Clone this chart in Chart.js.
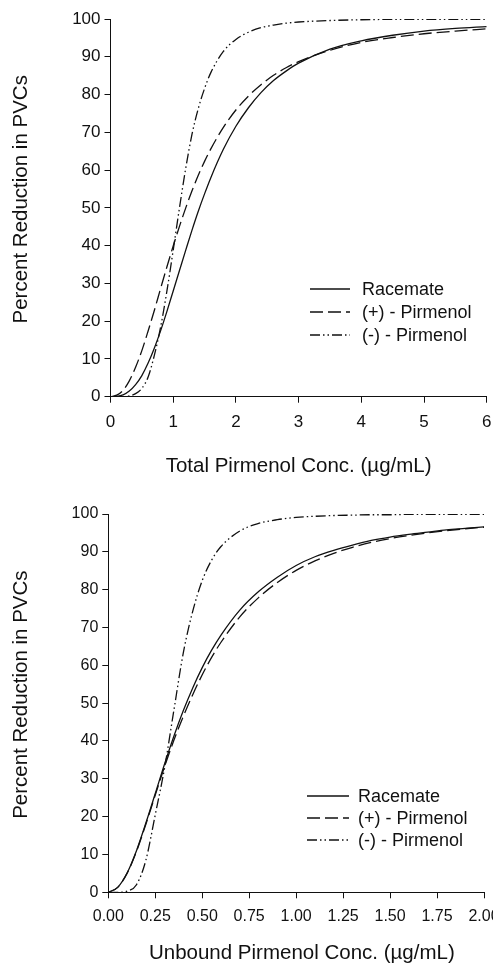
<!DOCTYPE html>
<html>
<head>
<meta charset="utf-8">
<script src="https://cdn.jsdelivr.net/npm/chart.js@4.4.1/dist/chart.umd.min.js"></script>
<style>
  html, body { margin: 0; padding: 0; background: #fff; }
  body { width: 493px; height: 966px; overflow: hidden; position: relative; }
  .panel { position: absolute; left: 0; width: 520px; height: 483px; }
  #panelTop { top: 0; }
  #panelBottom { top: 483px; }
</style>
</head>
<body>
<div class="panel" id="panelTop"><canvas id="chartTotal" width="520" height="483"></canvas></div>
<div class="panel" id="panelBottom"><canvas id="chartUnbound" width="520" height="483"></canvas></div>
<script>
// Series names
const seriesNames = ['Racemate', '(+) - Pirmenol', '(-) - Pirmenol'];

// Tick labels
const yTicks = [0, 10, 20, 30, 40, 50, 60, 70, 80, 90, 100];
const xTicksTotal = [0, 1, 2, 3, 4, 5, 6];
const xTicksUnbound = [0, 0.25, 0.5, 0.75, 1, 1.25, 1.5, 1.75, 2];

// Top panel: total concentration (ug/mL)
const xTotal = [0, 0.1, 0.2, 0.3, 0.4, 0.5, 0.6, 0.7, 0.8, 0.9, 1.0, 1.1, 1.2, 1.3, 1.4, 1.5, 1.6, 1.8, 2.0, 2.2, 2.4, 2.6, 2.8, 3.0, 3.5, 4.0, 4.5, 5.0, 5.5, 6.0];
const racemateTotal = [0, 0.1, 0.5, 1.5, 3.2, 5.6, 8.9, 12.9, 17.5, 22.6, 28.0, 33.4, 38.8, 44.1, 49.1, 53.7, 58.0, 65.5, 71.6, 76.5, 80.5, 83.7, 86.2, 88.3, 92.0, 94.2, 95.7, 96.8, 97.5, 98.0];
const plusTotal = [0, 0.4, 1.7, 4.2, 7.8, 12.2, 17.4, 22.9, 28.7, 34.4, 39.9, 45.1, 50.0, 54.5, 58.6, 62.3, 65.6, 71.3, 75.9, 79.6, 82.6, 85.1, 87.1, 88.7, 91.7, 93.8, 95.1, 96.1, 96.8, 97.4];
const minusTotal = [0, 0, 0, 0.2, 0.8, 2.2, 5.2, 11.0, 18.5, 28.0, 38.8, 50.0, 60.5, 69.5, 76.3, 81.6, 85.8, 91.4, 94.6, 96.5, 97.7, 98.4, 98.9, 99.2, 99.6, 99.8, 99.9, 99.9, 99.9, 99.9];

// Bottom panel: unbound concentration (ug/mL)
const xUnbound = [0, 0.05, 0.1, 0.15, 0.2, 0.25, 0.3, 0.35, 0.4, 0.45, 0.5, 0.55, 0.6, 0.7, 0.8, 0.9, 1.0, 1.1, 1.2, 1.3, 1.4, 1.5, 1.6, 1.7, 1.8, 1.9, 2.0];
const racemateUnbound = [0, 1.3, 5.1, 11.0, 18.3, 26.1, 34.0, 41.4, 48.1, 54.1, 59.4, 64.0, 68.0, 74.6, 79.5, 83.3, 86.4, 88.7, 90.4, 91.8, 93.0, 93.9, 94.6, 95.2, 95.8, 96.2, 96.6];
const plusUnbound = [0, 1.3, 5.0, 10.8, 18.0, 25.7, 33.3, 40.3, 46.6, 52.3, 57.5, 62.1, 66.1, 72.8, 77.9, 81.9, 85.1, 87.6, 89.6, 91.2, 92.5, 93.5, 94.3, 95.0, 95.6, 96.1, 96.5];
const minusUnbound = [0, 0, 0.3, 2.0, 8.5, 20.5, 33.0, 48.4, 63.5, 74.4, 82.4, 87.8, 91.4, 95.5, 97.5, 98.5, 99.1, 99.4, 99.6, 99.7, 99.8, 99.8, 99.9, 99.9, 99.9, 99.9, 99.9];

const FONT = '"Liberation Sans", Arial, Helvetica, sans-serif';
const INK = '#111';

// Line styles: solid, long dash, dash-dot-dot
const lineStyles = [[], [13, 5], [10, 3, 1.5, 3, 1.5, 3]];

// Legend drawn inside the plot, line sample + label
const lineLegend = {
  id: 'lineLegend',
  afterDraw(chart, args, opts) {
    const ctx = chart.ctx;
    ctx.save();
    ctx.font = '18px ' + FONT;
    ctx.textBaseline = 'middle';
    ctx.textAlign = 'left';
    ctx.fillStyle = INK;
    chart.data.datasets.forEach((ds, i) => {
      const y = opts.y + i * opts.rowH;
      ctx.beginPath();
      ctx.setLineDash(ds.borderDash);
      ctx.strokeStyle = ds.borderColor;
      ctx.lineWidth = ds.borderWidth;
      ctx.moveTo(opts.x1, y);
      ctx.lineTo(opts.x2, y);
      ctx.stroke();
      ctx.setLineDash([]);
      ctx.fillText(ds.label, opts.textX, y + 1);
    });
    ctx.restore();
  }
};

function makeChart(canvasId, xs, seriesList, cfg) {
  const datasets = seriesList.map((ys, i) => ({
    label: seriesNames[i],
    data: xs.map((x, j) => ({ x: x, y: ys[j] })),
    borderColor: INK,
    borderWidth: 1.3,
    borderDash: lineStyles[i],
    pointRadius: 0,
    fill: false,
    cubicInterpolationMode: 'monotone'
  }));

  return new Chart(document.getElementById(canvasId), {
    type: 'line',
    data: { datasets },
    options: {
      responsive: false,
      animation: false,
      devicePixelRatio: 1,
      layout: { padding: cfg.padding },
      plugins: {
        legend: { display: false },
        tooltip: { enabled: false },
        lineLegend: cfg.legend
      },
      scales: {
        x: {
          type: 'linear',
          min: 0,
          max: cfg.xMax,
          afterBuildTicks: s => { s.ticks = cfg.xTicks.map(v => ({ value: v })); },
          afterFit: s => { s.height = cfg.xHeight; },
          grid: { drawOnChartArea: false, drawTicks: true, tickLength: 6, color: INK },
          border: { display: true, color: INK, width: 1 },
          ticks: {
            color: INK,
            padding: 9,
            maxRotation: 0,
            font: { family: FONT, size: cfg.tickSize },
            callback: cfg.xFormat
          },
          title: {
            display: true,
            text: cfg.xTitle,
            color: INK,
            font: { family: FONT, size: 20.5 },
            padding: { top: 0, bottom: cfg.xTitlePad }
          }
        },
        y: {
          type: 'linear',
          min: 0,
          max: 100,
          afterBuildTicks: s => { s.ticks = yTicks.map(v => ({ value: v })); },
          afterFit: s => { s.width = cfg.yWidth; },
          grid: { drawOnChartArea: false, drawTicks: true, tickLength: 6, color: INK },
          border: { display: true, color: INK, width: 1 },
          ticks: {
            color: INK,
            padding: 4,
            font: { family: FONT, size: cfg.tickSize }
          },
          title: {
            display: true,
            // leading spaces nudge the rotated title a few px up, as in the original
            text: '   Percent Reduction in PVCs',
            color: INK,
            font: { family: FONT, size: 20.5 },
            padding: { top: 9, bottom: 0 }
          }
        }
      }
    },
    plugins: [lineLegend]
  });
}

makeChart('chartTotal', xTotal, [racemateTotal, plusTotal, minusTotal], {
  padding: { top: 19, right: 33.3, bottom: 0, left: 0 },
  xMax: 6,
  xTicks: xTicksTotal,
  xHeight: 86.3,
  yWidth: 110.5,
  tickSize: 17,
  xFormat: v => String(v),
  xTitle: 'Total Pirmenol Conc. (µg/mL)',
  xTitlePad: 4,
  legend: { x1: 310, x2: 350, textX: 362, y: 289, rowH: 23 }
});

makeChart('chartUnbound', xUnbound, [racemateUnbound, plusUnbound, minusUnbound], {
  padding: { top: 31, right: 36, bottom: 0, left: 0 },
  xMax: 2,
  xTicks: xTicksUnbound,
  xHeight: 73.7,
  yWidth: 108.3,
  tickSize: 16,
  xFormat: v => Number(v).toFixed(2),
  xTitle: '  Unbound Pirmenol Conc. (µg/mL)',
  xTitlePad: 0,
  legend: { x1: 307, x2: 349, textX: 358, y: 313, rowH: 22 }
});
</script>
</body>
</html>
